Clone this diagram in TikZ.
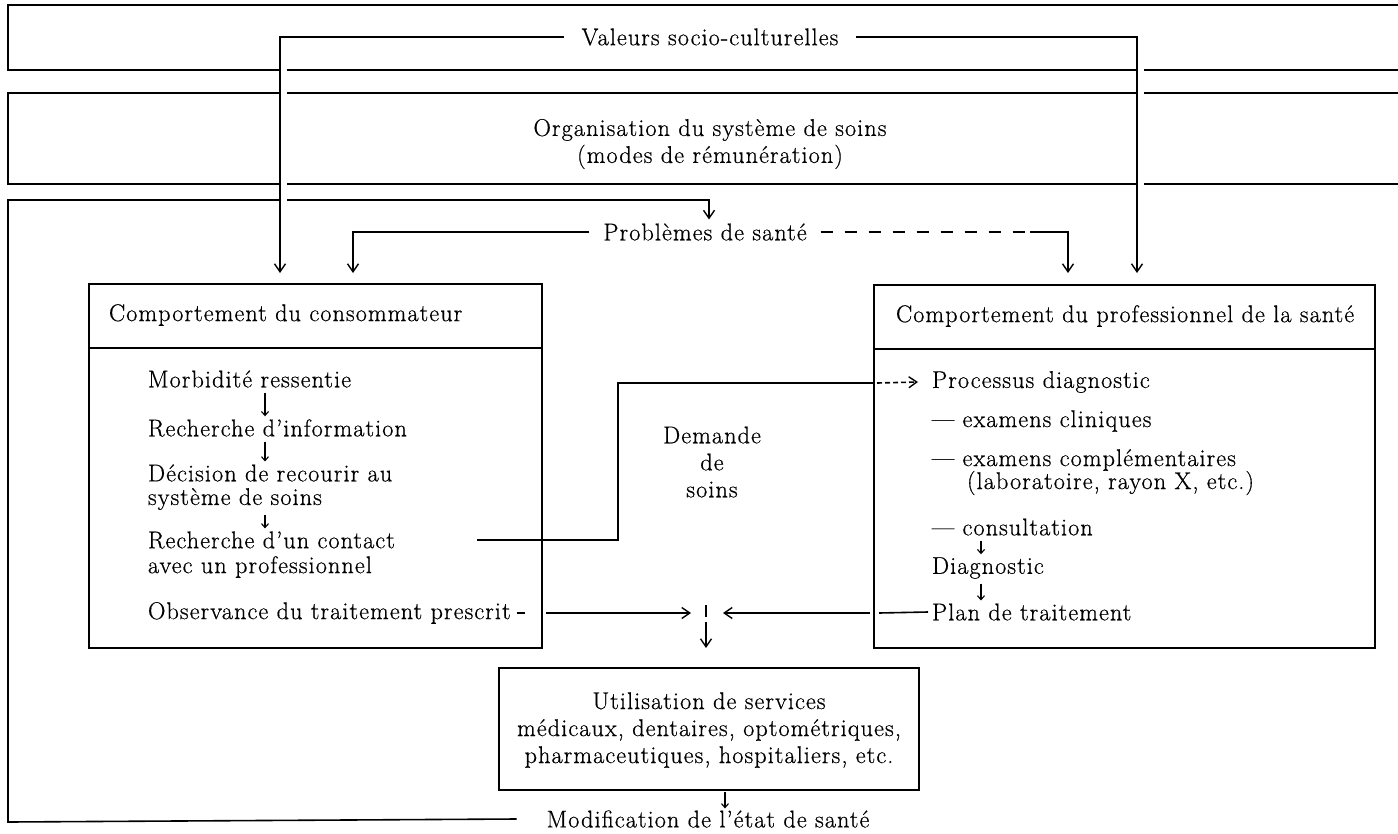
\documentclass[tikz,border=0pt]{standalone}
\usepackage{fontspec}
\setmainfont{Latin Modern Roman}[FakeBold=0.6, LetterSpace=4.5]
\usetikzlibrary{arrows.meta}
\begin{document}
\begin{tikzpicture}[x=1pt,y=-1pt,
  every node/.style={font=\fontsize{24.2}{27}\selectfont, inner sep=0pt, outer sep=0pt},
  ln/.style={line width=1.6pt},
  arr/.style={line width=1.6pt, -{Straight Barb[length=8pt,width=11pt,line width=1.4pt]}},
  sarr/.style={line width=1.1pt, -{Straight Barb[length=4pt,width=7pt,line width=1.1pt]}, shorten <=5pt, shorten >=3pt},
  gapw/.style={white, line width=8pt},
  frame/.style={draw, line width=1.6pt}
]
\useasboundingbox (0,0) rectangle (1398,833);

% ---------- text nodes ----------
\node (val) at (710,37) {Valeurs socio-culturelles};
\node[align=center] (org) at (710,144) {Organisation du système de soins\\(modes de rémunération)};
\node (prob) at (705,232) {Problèmes de santé};

% boxes
\node[frame, minimum width=453pt, minimum height=364pt] (conso) at (315.5,466) {};
\node[frame, minimum width=501pt, minimum height=363pt] (prof) at (1124.5,466.5) {};
\node[frame, minimum width=420pt, minimum height=122pt] (util) at (709,729) {};
\draw[ln] (89,348) -- (542,348);
\draw[ln] (874,349) -- (1375,349);

\node[anchor=west] (consoh) at (109,315) {Comportement du consommateur};
\node[anchor=west] (profh) at (896,316) {Comportement du professionnel de la santé};

% consumer items
\node[anchor=west] (m1) at (148,379) {Morbidité ressentie};
\node[anchor=west] (m2) at (148,428) {Recherche d’information};
\node[anchor=west] (m3a) at (148,473) {Décision de recourir au};
\node[anchor=west] (m3b) at (148,499) {système de soins};
\node[anchor=west] (m4a) at (148,540) {Recherche d’un contact};
\node[anchor=west] (m4b) at (148,567) {avec un professionnel};
\node[anchor=west] (m5) at (148,613) {Observance du traitement prescrit};

% professional items
\node[anchor=west] (p1) at (932,382) {Processus diagnostic};
\node[anchor=west] (p2) at (932,421) {— examens cliniques};
\node[anchor=west] (p3a) at (932,460) {— examens complémentaires};
\node[anchor=west] (p3b) at (967,483) {(laboratoire, rayon X, etc.)};
\node[anchor=west] (p4) at (932,527) {— consultation};
\node[anchor=west] (p5) at (932,568) {Diagnostic};
\node[anchor=west] (p6) at (932,612) {Plan de traitement};

\node[align=center] (dem) at (712,462) {Demande\\de\\soins};

\node[align=center] (ut) at (709,730) {Utilisation de services\\médicaux, dentaires, optométriques,\\pharmaceutiques, hospitaliers, etc.};
\node (modif) at (708,819) {Modification de l’état de santé};

% ---------- named coordinates ----------
\coordinate (ca) at (265,0);
\coordinate (pa) at (981,0);
\coordinate (junc) at (706,613);
\coordinate (dstart) at (477,540);
\coordinate (dtop) at (618,383);
\coordinate (dashend) at (1030,232);
\coordinate (fb) at (709,200);

% ---------- bands ----------
\draw[ln] (1398,5) -- (8,5) -- (8,70) -- (1398,70);
\draw[ln] (1398,93) -- (8,93) -- (8,184) -- (1398,184);
% feedback loop (band 3)
\draw[arr] ([xshift=-30pt]modif.west) -- (8,822) -- (8,200) -- (fb) -- ([xshift=4pt,yshift=4pt]prob.north);

% gaps where the vertical connectors cross the band lines
\draw[gapw] (283,62) -- (283,208);
\draw[gapw] (1140,62) -- (1140,192);

% ---------- connectors ----------
\draw[arr] ([xshift=-18pt]val.west) -| ([xshift=-35.5pt,yshift=11pt]conso.north);
\draw[arr] ([xshift=18pt]val.east) -| ([xshift=12.5pt,yshift=12pt]prof.north);
\draw[arr] ([xshift=-14pt]prob.west) -| ([xshift=37.5pt,yshift=11pt]conso.north);
\draw[ln, dash pattern=on 12pt off 12pt] ([xshift=14pt]prob.east) -- (dashend);
\draw[arr] (dashend) -| ([xshift=-56.5pt,yshift=12pt]prof.north);

% consumer internal arrows
\draw[sarr] (m1.south -| ca) -- (m2.north -| ca);
\draw[sarr] (m2.south -| ca) -- (m3a.north -| ca);
\draw[sarr] (m3b.south -| ca) -- (m4a.north -| ca);
% professional internal arrows
\draw[sarr] (p4.south -| pa) -- (p5.north -| pa);
\draw[sarr] (p5.south -| pa) -- (p6.north -| pa);

% demande de soins
\draw[ln] (dstart) -- (dtop |- dstart) -- (dtop) -- (prof.west |- dtop);
\draw[line width=1.6pt, dash pattern=on 5pt off 3pt, -{Straight Barb[length=8pt,width=11pt,line width=1.4pt]}] ([xshift=3pt]prof.west |- dtop) -- ([xshift=-14pt]p1.west);

% observance / plan -> junction
\draw[ln] ([xshift=6pt]m5.east) -- ([xshift=14pt]m5.east);
\draw[arr] ([xshift=4pt]conso.east |- junc) -- ([xshift=-15pt]junc);
\draw[ln] ([xshift=-4pt]p6.west) -- ([xshift=5pt]prof.west |- junc);
\draw[arr] ([xshift=-4pt]prof.west |- junc) -- ([xshift=17pt]junc);
\draw[ln] ([yshift=8pt]junc) -- ([yshift=-4pt]junc);
\draw[arr] ([yshift=-9pt]junc) -- ([yshift=-35pt]junc);

% utilisation -> modification
\draw[sarr, shorten <=2pt, shorten >=2pt] ([xshift=16pt]util.south) -- ([xshift=17pt]modif.north);
\end{tikzpicture}
\end{document}
